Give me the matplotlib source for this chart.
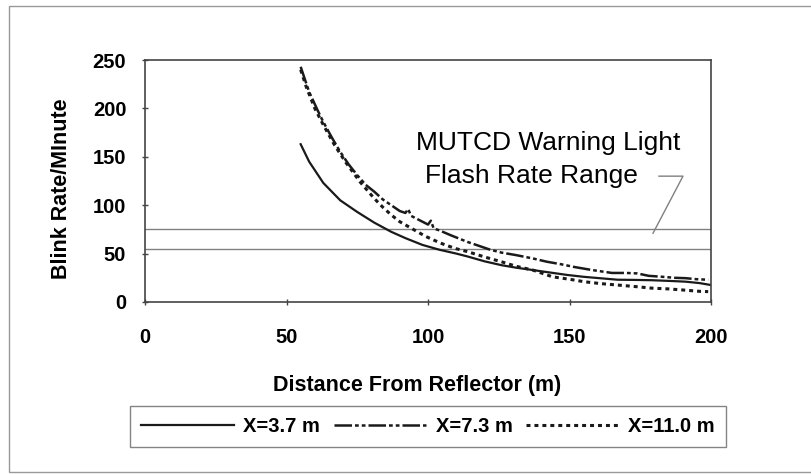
import matplotlib
matplotlib.use('Agg')
import matplotlib.pyplot as plt
from matplotlib.patches import Rectangle

plt.rcParams['font.family'] = ['Liberation Sans', 'DejaVu Sans']

# X = 3.7 m (solid)
dist_37 = [55, 58, 63, 69, 75, 81, 87, 92, 98, 104, 110, 114, 120, 126, 131,
           137, 143, 149, 155, 161, 167, 173, 179, 185, 191, 196, 200]
rate_37 = [163, 145, 123, 105, 93, 82, 72.5, 66, 59, 54, 50, 47, 42, 38, 35.5,
           33, 30.5, 28, 26, 24.5, 23, 22.8, 22.5, 21.8, 21, 19.5, 17.5]

# X = 7.3 m (dash-dot)
dist_73 = [55, 58, 61, 63, 66, 69, 72, 75, 78, 81, 84, 87, 90, 92, 93, 94, 96,
           98, 100, 101, 102, 104, 108, 114, 118, 122, 126, 131, 137, 142, 147,
           152, 158, 165, 170, 174, 178, 183, 187, 191, 195, 199]
rate_73 = [243, 217, 198, 186, 170, 155, 142, 131, 121, 114, 106, 100, 94, 92,
           96, 89, 86, 83, 80, 84, 76, 74, 69, 62, 58, 54, 51, 48.5, 45, 41.6,
           39, 36, 33, 30, 30, 29.5, 27, 26, 25, 24.6, 23.5, 23]

# X = 11.0 m (dotted)
dist_110 = [55, 57, 60, 63, 67, 71, 76, 81, 84, 87, 90, 93, 96, 99, 102, 106,
            110, 114, 120, 126, 131, 137, 144, 150, 155, 161, 167, 173, 179,
            185, 190, 196, 199]
rate_110 = [240, 222, 200, 183, 162, 144, 124, 107, 98, 90, 83, 78, 73, 68, 64,
            59, 55, 52, 46.5, 41.5, 37, 33, 26, 23.5, 21, 19, 17.5, 16, 14.3,
            13.5, 12.4, 11, 10.7]

# MUTCD flash rate range
mutcd_low = 55
mutcd_high = 75

fig = plt.figure(figsize=(8.11, 4.74), dpi=100)
ax = fig.add_axes([0.1788, 0.3629, 0.6979, 0.5105])

ax.axhline(mutcd_high, color='#808080', lw=1)
ax.axhline(mutcd_low, color='#808080', lw=1)

ax.plot(dist_37, rate_37, color='#1a1a1a', lw=1.6, ls='-', label='X=3.7 m')
ax.plot(dist_73, rate_73, color='#1a1a1a', lw=1.8,
        ls=(0, (7, 1.2, 1.5, 1.2, 1.5, 1.2)), label='X=7.3 m')
ax.plot(dist_110, rate_110, color='#1a1a1a', lw=2.2, ls=(0, (1.3, 1.3)),
        label='X=11.0 m')

ax.set_xlim(0, 200)
ax.set_ylim(0, 250)
ax.set_xticks([0, 50, 100, 150, 200])
ax.set_yticks([0, 50, 100, 150, 200, 250])
ax.tick_params(axis='both', direction='inout', length=5, width=1,
               labelsize=14.5, color='#444444')
ax.tick_params(axis='x', pad=16)
ax.tick_params(axis='y', pad=11)
for lbl in ax.get_xticklabels() + ax.get_yticklabels():
    lbl.set_fontweight('bold')
for sp in ax.spines.values():
    sp.set_color('#444444')
    sp.set_linewidth(1.2)

ax.set_xlabel('Distance From Reflector (m)', fontsize=15.5, fontweight='bold')
ax.xaxis.set_label_coords(0.481, -0.30)
ax.set_ylabel('Blink Rate/MInute', fontsize=15.5, fontweight='bold')
ax.yaxis.set_label_coords(-0.129, 0.467)

ax.text(142.4, 164, 'MUTCD Warning Light', fontsize=19, ha='center', va='center')
ax.text(136.7, 130, 'Flash Rate Range', fontsize=19, ha='center', va='center')
ax.plot([181.6, 190.1, 179.5], [130, 130, 71], color='#808080', lw=1)

leg = ax.legend(loc='center', bbox_to_anchor=(0.5277, 0.1002),
                bbox_transform=fig.transFigure, ncol=3, fancybox=False,
                frameon=True, handlelength=4.6, handletextpad=0.45,
                columnspacing=0.7, borderpad=0.55, borderaxespad=0,
                prop={'size': 14.5, 'weight': 'bold'})
leg.get_frame().set_edgecolor('#666666')
leg.get_frame().set_linewidth(1)

fig.patches.append(Rectangle((9 / 811, 2 / 474), 1.0, 1 - 8 / 474,
                             transform=fig.transFigure, fill=False,
                             edgecolor='#999999', lw=1))

fig.savefig('out.png', dpi=100)
plt.close()
